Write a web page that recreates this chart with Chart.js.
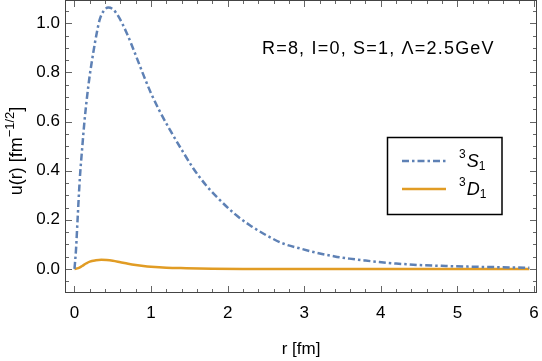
<!DOCTYPE html>
<html>
<head>
<meta charset="utf-8">
<script src="https://cdn.jsdelivr.net/npm/chart.js@4.4.1/dist/chart.umd.min.js"></script>
<style>
html,body{margin:0;padding:0;background:#fff;}
#wrap{position:relative;width:542px;height:361px;}
</style>
</head>
<body>
<div id="wrap"><canvas id="c" width="542" height="361"></canvas></div>
<script>
// ---- data ----
const rS1 = [0,0.02,0.04,0.07,0.1,0.13,0.16,0.2,0.245,0.29,0.33,0.38,0.44,0.5,0.57,0.68,0.8,0.9,1.0,1.1,1.245,1.42,1.55,1.72,1.9,2.1,2.29,2.5,2.72,2.95,3.16,3.4,3.59,3.8,3.98,4.2,4.5,4.85,5.2,5.55,5.94];
const uS1 = [0,0.08,0.2,0.37,0.49,0.6,0.69,0.79,0.88,0.96,1.016,1.05,1.064,1.058,1.03,0.962,0.87,0.79,0.715,0.65,0.567,0.475,0.41,0.34,0.28,0.222,0.178,0.138,0.104,0.083,0.066,0.051,0.042,0.034,0.028,0.022,0.016,0.012,0.009,0.007,0.005];
const rD1 = [0,0.05,0.1,0.15,0.2,0.28,0.35,0.42,0.5,0.6,0.7,0.8,0.9,1.0,1.2,1.46,1.8,2.2,3.0,4.0,5.0,5.94];
const uD1 = [0,0.003,0.012,0.022,0.03,0.035,0.037,0.036,0.033,0.027,0.021,0.016,0.012,0.009,0.005,0.003,0.001,0,0,0,0,0];
const xTicks = [0,1,2,3,4,5,6];
const yTicks = [0.0,0.2,0.4,0.6,0.8,1.0];
const seriesNames = ["S","D"];
const annotationText = "R=8, I=0, S=1, \u039B=2.5GeV";
const xTitle = "r [fm]";

const BLUE = '#5E81B5', ORANGE = '#E19C24';
const FONT = '"Liberation Sans", Arial, sans-serif';

const toPts = (xs, ys) => xs.map((x,i)=>({x:x,y:ys[i]}));

const framePlugin = {
  id:'frame',
  beforeDatasetsDraw(chart){
    const ctx = chart.ctx, a = chart.chartArea;
    const xs = chart.scales.x, ys = chart.scales.y;
    ctx.save();
    ctx.strokeStyle = '#666'; ctx.lineWidth = 1;
    ctx.beginPath();
    for (let k=0;k<=30;k++){
      const v = k*0.2; const p = Math.round(xs.getPixelForValue(v))+0.5;
      if (p < a.left || p > a.right) continue;
      const major = (k%5===0); const L = major?7:4;
      ctx.moveTo(p,a.bottom); ctx.lineTo(p,a.bottom-L);
      ctx.moveTo(p,a.top); ctx.lineTo(p,a.top+L);
    }
    for (let k=-2;k<=22;k++){
      const v = k*0.05; const p = Math.round(ys.getPixelForValue(v))+0.5;
      if (p < a.top || p > a.bottom) continue;
      const major = (k%4===0); const L = major?7:4;
      ctx.moveTo(a.left,p); ctx.lineTo(a.left+L,p);
      ctx.moveTo(a.right,p); ctx.lineTo(a.right-L,p);
    }
    ctx.stroke();
    ctx.strokeStyle = '#444';
    ctx.strokeRect(a.left+0.5, a.top+0.5, a.right-a.left-1, a.bottom-a.top-1);
    ctx.restore();
  },
  afterDraw(chart){
    const ctx = chart.ctx, a = chart.chartArea;
    ctx.save();
    ctx.fillStyle = '#000';
    ctx.font = '18px ' + FONT;
    ctx.letterSpacing = '1.2px';
    ctx.textBaseline = 'middle'; ctx.textAlign = 'left';
    ctx.fillText(annotationText, 262, 49);
    ctx.letterSpacing = '0px';
    // y title with superscript
    ctx.translate(17, 151);
    ctx.rotate(-Math.PI/2);
    const p1 = 'u(r) [fm', p2 = '\u22121/2', p3 = ']';
    ctx.font = '18px ' + FONT; const w1 = ctx.measureText(p1).width, w3 = ctx.measureText(p3).width;
    ctx.font = '13px ' + FONT; const w2 = ctx.measureText(p2).width;
    let x0 = -(w1+w2+w3)/2;
    ctx.font = '18px ' + FONT; ctx.fillText(p1, x0, 0);
    ctx.font = '13px ' + FONT; ctx.fillText(p2, x0+w1, -7);
    ctx.font = '18px ' + FONT; ctx.fillText(p3, x0+w1+w2, 0);
    ctx.restore();
    // legend box
    ctx.save();
    ctx.fillStyle = '#fff';
    ctx.fillRect(387,137,115,78);
    ctx.strokeStyle = '#000'; ctx.lineWidth = 1.5;
    ctx.strokeRect(387.5,137.5,114.5,77);
    const rows = [{y:161, color:BLUE, dash:[7,3,2.5,3], L:seriesNames[0]},
                  {y:189, color:ORANGE, dash:[], L:seriesNames[1]}];
    rows.forEach(r=>{
      ctx.strokeStyle = r.color; ctx.lineWidth = 2.5; ctx.setLineDash(r.dash);
      ctx.beginPath(); ctx.moveTo(402,r.y); ctx.lineTo(446,r.y); ctx.stroke();
      ctx.setLineDash([]);
      ctx.fillStyle = '#000'; ctx.textBaseline = 'middle'; ctx.textAlign='left';
      ctx.font = '12px ' + FONT; ctx.fillText('3', 459, r.y-6);
      const w = ctx.measureText('3').width;
      ctx.font = 'italic 18px ' + FONT; ctx.fillText(r.L, 459+w+1, r.y+1);
      const w2 = ctx.measureText(r.L).width;
      ctx.font = '12px ' + FONT; ctx.fillText('1', 459+w+1+w2, r.y+6);
    });
    ctx.restore();
  }
};

new Chart(document.getElementById('c'), {
  type:'line',
  data:{ datasets:[
    {label:'3S1', data:toPts(rS1,uS1), borderColor:BLUE, borderWidth:2.5, borderDash:[7,3,2.5,3],
     pointRadius:0, cubicInterpolationMode:'monotone', fill:false},
    {label:'3D1', data:toPts(rD1,uD1), borderColor:ORANGE, borderWidth:2.5,
     pointRadius:0, cubicInterpolationMode:'monotone', fill:false}
  ]},
  options:{
    responsive:false, animation:false, devicePixelRatio:1,
    layout:{padding:{top:0,right:5,left:0,bottom:0}},
    plugins:{legend:{display:false}, tooltip:{enabled:false}},
    scales:{
      x:{type:'linear', min:-0.124, max:6.04,
         afterFit(s){ s.height = 68; s.paddingLeft = 0; s.paddingRight = 0; },
         afterBuildTicks(s){ s.ticks = xTicks.map(v=>({value:v})); },
         grid:{display:false, drawTicks:false}, border:{display:false},
         ticks:{font:{family:FONT,size:17}, color:'#000', padding:10, maxRotation:0,
                callback:(v)=>String(v)},
         title:{display:true, text:xTitle, font:{family:FONT,size:17}, color:'#000', padding:{top:0,bottom:1}}
      },
      y:{type:'linear', min:-0.098, max:1.095,
         afterFit(s){ s.width = 65; s.paddingTop = 0; s.paddingBottom = 0; },
         afterBuildTicks(s){ s.ticks = yTicks.map(v=>({value:v})); },
         grid:{display:false, drawTicks:false}, border:{display:false},
         ticks:{font:{family:FONT,size:17}, color:'#000', padding:5,
                callback:(v)=>Number(v).toFixed(1)}
      }
    }
  },
  plugins:[framePlugin]
});
</script>
</body>
</html>
